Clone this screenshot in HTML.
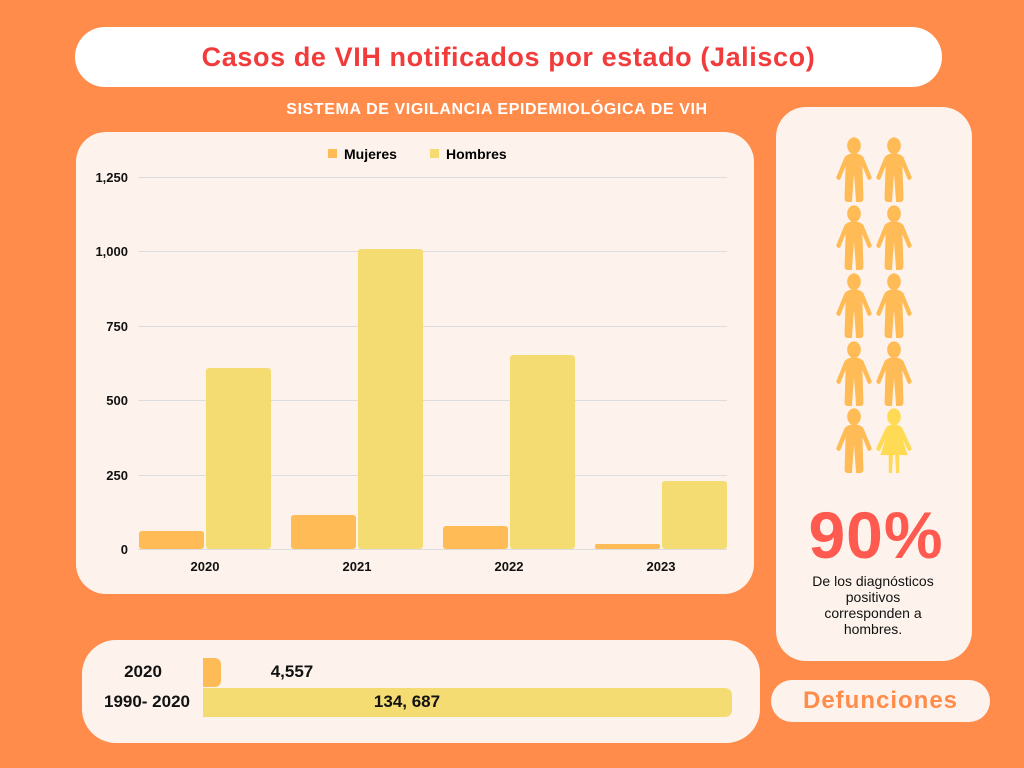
<!DOCTYPE html>
<html><head><meta charset="utf-8"><style>
body{margin:0;width:1024px;height:768px;background:#FF8C4B;position:relative;overflow:hidden;font-family:"Liberation Sans","DejaVu Sans",sans-serif}
.a{position:absolute}
</style></head><body>
<div class="a" style="left:75px;top:27px;width:867px;height:60px;background:#fff;border-radius:30px;text-align:center;line-height:60px;color:#F23B3B;font-weight:bold;font-size:27px;letter-spacing:0.6px">Casos de VIH notificados por estado (Jalisco)</div>
<div class="a" style="left:150px;top:101px;width:694px;text-align:center;color:#fff;font-weight:bold;font-size:16px;letter-spacing:0.6px">SISTEMA DE VIGILANCIA EPIDEMIOLÓGICA DE VIH</div>
<div class="a" style="left:76px;top:132px;width:678px;height:462px;background:#FDF3EC;border-radius:30px"></div>
<div class="a" style="left:776px;top:107px;width:196px;height:554px;background:#FDF3EC;border-radius:30px"></div>
<div class="a" style="left:82px;top:640px;width:678px;height:103px;background:#FDF3EC;border-radius:34px"></div>
<div class="a" style="left:771px;top:680px;width:219px;height:42px;background:#FDF3EC;border-radius:21px;text-align:center;line-height:42px;color:#FF8C4B;font-weight:bold;font-size:24px;letter-spacing:1px">Defunciones</div>
<svg class="a" style="left:0;top:0" width="1024" height="768" font-family="Liberation Sans, sans-serif">
<g stroke="#ddd" stroke-width="1">
<line x1="138" x2="727" y1="177.5" y2="177.5"/><line x1="138" x2="727" y1="251.5" y2="251.5"/><line x1="138" x2="727" y1="326.5" y2="326.5"/><line x1="138" x2="727" y1="400.5" y2="400.5"/><line x1="138" x2="727" y1="475.5" y2="475.5"/><line x1="138" x2="727" y1="549.5" y2="549.5"/>
</g>
<g font-size="13" font-weight="bold" text-anchor="end" fill="#111">
<text x="128" y="182">1,250</text><text x="128" y="256">1,000</text><text x="128" y="331">750</text><text x="128" y="405">500</text><text x="128" y="480">250</text><text x="128" y="554">0</text>
</g>
<rect x="328" y="149" width="9" height="9" fill="#FFBB55"/><text x="344" y="159" font-size="14" font-weight="bold">Mujeres</text>
<rect x="430" y="149" width="9" height="9" fill="#F4DC72"/><text x="446" y="159" font-size="14" font-weight="bold">Hombres</text>
<g fill="#FFBB55">
<rect x="139" y="531" width="65" height="18" rx="3"/><rect x="291" y="515" width="65" height="34" rx="3"/><rect x="443" y="526" width="65" height="23" rx="3"/><rect x="595" y="544" width="65" height="5" rx="2"/>
</g>
<g fill="#F4DC72">
<rect x="206" y="368" width="65" height="181" rx="3"/><rect x="358" y="249" width="65" height="300" rx="3"/><rect x="510" y="355" width="65" height="194" rx="3"/><rect x="662" y="481" width="65" height="68" rx="3"/>
</g>
<g font-size="13" font-weight="bold" text-anchor="middle" fill="#111">
<text x="205" y="571">2020</text><text x="357" y="571">2021</text><text x="509" y="571">2022</text><text x="661" y="571">2023</text>
</g>
<defs>
<g id="m"><circle cx="0" cy="6" r="6.5"/><path d="M-9 15 Q-6 12 0 12 Q6 12 9 15 L17 31 Q15 34 13 32 L8 22 L9 47 Q9 50 6 50 L2 50 L0 28 L-2 50 L-6 50 Q-9 50 -9 47 L-8 22 L-13 32 Q-15 34 -17 31 Z"/></g>
<g id="w"><circle cx="0" cy="6" r="6.5"/><path d="M-8 15 Q-5 12 0 12 Q5 12 8 15 L17 31 Q15 34 13 32 L8 23 L13 36 L5 36 L5 50 L2 50 L1 36 L-1 36 L-2 50 L-5 50 L-5 36 L-13 36 L-8 23 L-13 32 Q-15 34 -17 31 Z"/></g>
</defs>
<g fill="#FFBB55">
<use href="#m" transform="translate(854 138) scale(1.05 1.28)"/><use href="#m" transform="translate(894 138) scale(1.05 1.28)"/>
<use href="#m" transform="translate(854 206) scale(1.05 1.28)"/><use href="#m" transform="translate(894 206) scale(1.05 1.28)"/>
<use href="#m" transform="translate(854 274) scale(1.05 1.28)"/><use href="#m" transform="translate(894 274) scale(1.05 1.28)"/>
<use href="#m" transform="translate(854 342) scale(1.05 1.28)"/><use href="#m" transform="translate(894 342) scale(1.05 1.28)"/>
<use href="#m" transform="translate(854 409) scale(1.05 1.28)"/>
</g>
<use href="#w" transform="translate(894 409) scale(1.05 1.28)" fill="#FFDB55"/>
<text x="876" y="558" font-size="66" font-weight="bold" fill="#FF5A4F" text-anchor="middle" letter-spacing="1">90%</text>
<g font-size="14" text-anchor="middle" fill="#111">
<text x="873" y="586">De los diagnósticos</text><text x="873" y="602">positivos</text><text x="873" y="618">corresponden a</text><text x="873" y="634">hombres.</text>
</g>
<path d="M203 658 H214 Q221 658 221 665 V680 Q221 687 214 687 H203 Z" fill="#FFBB55"/>
<path d="M203 688 H724 Q732 688 732 696 V709 Q732 717 724 717 H203 Z" fill="#F4DC72"/>
<g font-size="17" font-weight="bold" fill="#111">
<text x="143" y="677" text-anchor="middle">2020</text>
<text x="147" y="707" text-anchor="middle">1990- 2020</text>
<text x="292" y="677" text-anchor="middle">4,557</text>
<text x="407" y="707" text-anchor="middle">134, 687</text>
</g>
</svg>
</body></html>
